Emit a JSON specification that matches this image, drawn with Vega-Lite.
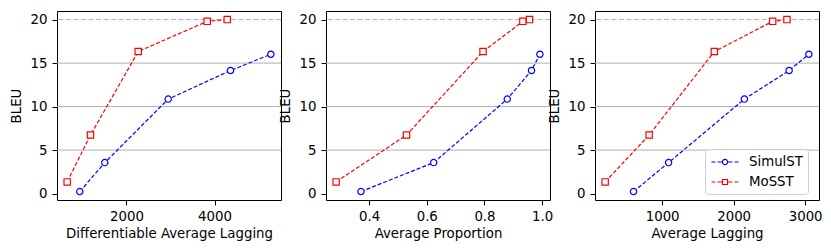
{
  "$schema": "https://vega.github.io/schema/vega-lite/v6.json",
  "padding": {"left": 8, "top": 10, "right": 11, "bottom": 8},
  "background": "white",
  "config": {
    "font": "DejaVu Sans",
    "view": {"stroke": "black", "strokeWidth": 1},
    "axis": {"domain": false, "grid": false, "tickColor": "black", "tickWidth": 1, "labelFont": "DejaVu Sans", "labelFontSize": 13.33, "labelColor": "black", "titleFont": "DejaVu Sans", "titleFontSize": 13.33, "titleFontWeight": "normal", "titleColor": "black"},
    "axisY": {"tickSize": 5, "labelPadding": 5, "titlePadding": 7},
    "axisX": {"tickSize": 5, "labelPadding": 4, "titlePadding": 4}
  },
  "datasets": {
    "runs": [
      {"model": "SimulST", "dal": 939, "ap": 0.372, "al": 600, "bleu": 0.23},
      {"model": "SimulST", "dal": 1507, "ap": 0.624, "al": 1090, "bleu": 3.56},
      {"model": "SimulST", "dal": 2948, "ap": 0.879, "al": 2150, "bleu": 10.86},
      {"model": "SimulST", "dal": 4364, "ap": 0.963, "al": 2776, "bleu": 14.15},
      {"model": "SimulST", "dal": 5280, "ap": 0.992, "al": 3052, "bleu": 16.02},
      {"model": "MoSST", "dal": 652, "ap": 0.286, "al": 203, "bleu": 1.34},
      {"model": "MoSST", "dal": 1182, "ap": 0.530, "al": 818, "bleu": 6.73},
      {"model": "MoSST", "dal": 2266, "ap": 0.795, "al": 1730, "bleu": 16.33},
      {"model": "MoSST", "dal": 3834, "ap": 0.933, "al": 2546, "bleu": 19.8},
      {"model": "MoSST", "dal": 4289, "ap": 0.956, "al": 2746, "bleu": 20.0}
    ],
    "solid": [{"bleu": 5}, {"bleu": 10}, {"bleu": 15}],
    "dashed": [{"bleu": 20}]
  },
  "bounds": "flush",
  "spacing": 45,
  "resolve": {"scale": {"color": "independent", "shape": "independent", "x": "independent"}, "legend": {"color": "independent", "shape": "independent"}},
  "hconcat": [
    {
      "width": 224, "height": 189,
      "layer": [
        {"data": {"name": "solid"}, "mark": {"type": "rule", "color": "#b0b0b0", "strokeWidth": 1},
         "encoding": {"y": {"field": "bleu", "type": "quantitative", "scale": {"domain": [-0.74, 20.99], "nice": false, "zero": false}, "axis": {"values": [0, 5, 10, 15, 20], "title": "BLEU"}}}},
        {"data": {"name": "dashed"}, "mark": {"type": "rule", "color": "#b0b0b0", "strokeWidth": 1, "strokeDash": [5, 2.5]},
         "encoding": {"y": {"field": "bleu", "type": "quantitative"}}},
        {"data": {"name": "runs"}, "mark": {"type": "line", "strokeWidth": 1.2, "strokeDash": [4, 2]},
         "encoding": {
           "x": {"field": "dal", "type": "quantitative", "scale": {"domain": [421, 5511], "nice": false, "zero": false}, "axis": {"values": [2000, 4000], "format": "d", "title": "Differentiable Average Lagging"}},
           "y": {"field": "bleu", "type": "quantitative"},
           "color": {"field": "model", "type": "nominal", "scale": {"domain": ["SimulST", "MoSST"], "range": ["#0000ff", "#ff0000"]}, "legend": null}}},
        {"data": {"name": "runs"}, "mark": {"type": "point", "filled": false, "fill": "white", "size": 40, "strokeWidth": 1.2, "opacity": 1},
         "encoding": {
           "x": {"field": "dal", "type": "quantitative"},
           "y": {"field": "bleu", "type": "quantitative"},
           "color": {"field": "model", "type": "nominal", "legend": null},
           "shape": {"field": "model", "type": "nominal", "scale": {"domain": ["SimulST", "MoSST"], "range": ["circle", "square"]}, "legend": null}}}
      ]
    },
    {
      "width": 224, "height": 189,
      "layer": [
        {"data": {"name": "solid"}, "mark": {"type": "rule", "color": "#b0b0b0", "strokeWidth": 1},
         "encoding": {"y": {"field": "bleu", "type": "quantitative", "scale": {"domain": [-0.74, 20.99], "nice": false, "zero": false}, "axis": {"values": [0, 5, 10, 15, 20], "title": "BLEU"}}}},
        {"data": {"name": "dashed"}, "mark": {"type": "rule", "color": "#b0b0b0", "strokeWidth": 1, "strokeDash": [5, 2.5]},
         "encoding": {"y": {"field": "bleu", "type": "quantitative"}}},
        {"data": {"name": "runs"}, "mark": {"type": "line", "strokeWidth": 1.2, "strokeDash": [4, 2]},
         "encoding": {
           "x": {"field": "ap", "type": "quantitative", "scale": {"domain": [0.251, 1.027], "nice": false, "zero": false}, "axis": {"values": [0.4, 0.6, 0.8, 1.0], "format": ".1f", "title": "Average Proportion"}},
           "y": {"field": "bleu", "type": "quantitative"},
           "color": {"field": "model", "type": "nominal", "scale": {"domain": ["SimulST", "MoSST"], "range": ["#0000ff", "#ff0000"]}, "legend": null}}},
        {"data": {"name": "runs"}, "mark": {"type": "point", "filled": false, "fill": "white", "size": 40, "strokeWidth": 1.2, "opacity": 1},
         "encoding": {
           "x": {"field": "ap", "type": "quantitative"},
           "y": {"field": "bleu", "type": "quantitative"},
           "color": {"field": "model", "type": "nominal", "legend": null},
           "shape": {"field": "model", "type": "nominal", "scale": {"domain": ["SimulST", "MoSST"], "range": ["circle", "square"]}, "legend": null}}}
      ]
    },
    {
      "width": 224, "height": 189,
      "layer": [
        {"data": {"name": "solid"}, "mark": {"type": "rule", "color": "#b0b0b0", "strokeWidth": 1},
         "encoding": {"y": {"field": "bleu", "type": "quantitative", "scale": {"domain": [-0.74, 20.99], "nice": false, "zero": false}, "axis": {"values": [0, 5, 10, 15, 20], "title": "BLEU"}}}},
        {"data": {"name": "dashed"}, "mark": {"type": "rule", "color": "#b0b0b0", "strokeWidth": 1, "strokeDash": [5, 2.5]},
         "encoding": {"y": {"field": "bleu", "type": "quantitative"}}},
        {"data": {"name": "runs"}, "transform": [{"filter": "datum.model === 'SimulST'"}],
         "mark": {"type": "line", "strokeWidth": 1.2, "strokeDash": [4, 2], "color": "#0000ff"},
         "encoding": {
           "x": {"field": "al", "type": "quantitative", "scale": {"domain": [61, 3194], "nice": false, "zero": false}, "axis": {"values": [1000, 2000, 3000], "format": "d", "title": "Average Lagging"}},
           "y": {"field": "bleu", "type": "quantitative"}}},
        {"data": {"name": "runs"}, "transform": [{"filter": "datum.model === 'MoSST'"}],
         "mark": {"type": "line", "strokeWidth": 1.2, "strokeDash": [4, 2], "color": "#ff0000"},
         "encoding": {
           "x": {"field": "al", "type": "quantitative"},
           "y": {"field": "bleu", "type": "quantitative"}}},
        {"data": {"name": "runs"}, "transform": [{"filter": "datum.model === 'SimulST'"}],
         "mark": {"type": "point", "shape": "circle", "filled": false, "fill": "white", "color": "#0000ff", "size": 40, "strokeWidth": 1.2, "opacity": 1},
         "encoding": {
           "x": {"field": "al", "type": "quantitative"},
           "y": {"field": "bleu", "type": "quantitative"}}},
        {"data": {"name": "runs"}, "transform": [{"filter": "datum.model === 'MoSST'"}],
         "mark": {"type": "point", "shape": "square", "filled": false, "fill": "white", "color": "#ff0000", "size": 40, "strokeWidth": 1.2, "opacity": 1},
         "encoding": {
           "x": {"field": "al", "type": "quantitative"},
           "y": {"field": "bleu", "type": "quantitative"}}},
        {"data": {"name": "runs"},
         "mark": {"type": "point", "filled": false, "fill": "white", "strokeWidth": 1.2, "opacity": 0},
         "encoding": {
           "x": {"field": "al", "type": "quantitative"},
           "y": {"field": "bleu", "type": "quantitative"},
           "color": {"field": "model", "type": "nominal", "title": null,
             "scale": {"domain": ["SimulST", "MoSST"], "range": ["#0000ff", "#ff0000"]},
             "legend": {"orient": "none", "legendX": 110, "legendY": 138, "title": null, "padding": 5, "strokeColor": "#d0d0d0", "fillColor": "rgba(255,255,255,0.8)", "cornerRadius": 3, "labelFontSize": 13.33, "labelFont": "DejaVu Sans", "labelColor": "black", "symbolSize": 196, "symbolStrokeWidth": 1.2, "symbolFillColor": "white", "symbolOpacity": 1, "symbolOffset": 7, "labelOffset": 16, "rowPadding": 5}},
           "shape": {"field": "model", "type": "nominal", "title": null,
             "scale": {"domain": ["SimulST", "MoSST"], "range": ["M-1.93,0L-1.36,0M-1.07,0L-0.37,0M0.37,0L1.07,0M1.36,0L1.93,0M0.37,0A0.37,0.37,0,1,1,-0.37,0A0.37,0.37,0,1,1,0.37,0Z", "M-1.93,0L-1.36,0M-1.07,0L-0.36,0M0.36,0L1.07,0M1.36,0L1.93,0M-0.36,-0.36L0.36,-0.36L0.36,0.36L-0.36,0.36Z"]},
             "legend": {"orient": "none", "legendX": 110, "legendY": 138, "title": null, "padding": 5, "strokeColor": "#d0d0d0", "fillColor": "rgba(255,255,255,0.8)", "cornerRadius": 3, "labelFontSize": 13.33, "labelFont": "DejaVu Sans", "labelColor": "black", "symbolSize": 196, "symbolStrokeWidth": 1.2, "symbolFillColor": "white", "symbolOpacity": 1, "symbolOffset": 7, "labelOffset": 16, "rowPadding": 5}}}}
      ]
    }
  ]
}
